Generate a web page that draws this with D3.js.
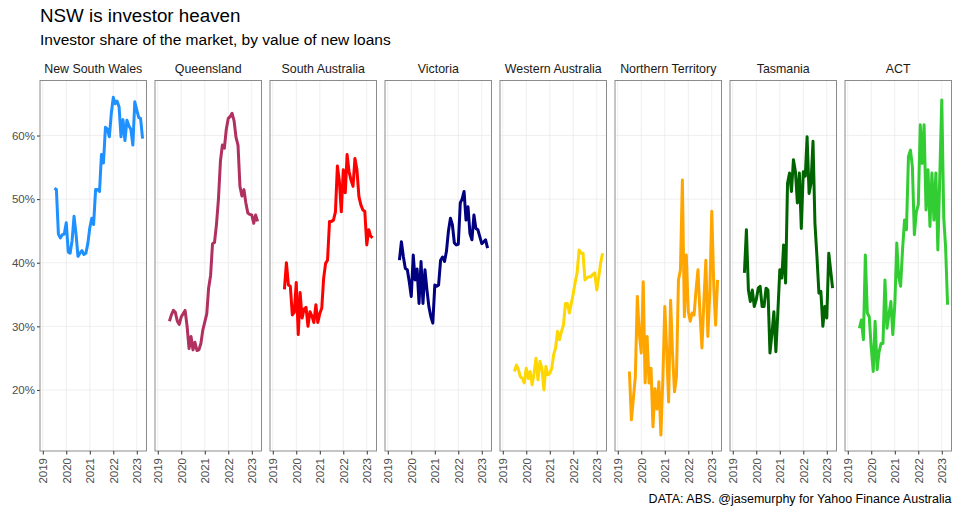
<!DOCTYPE html>
<html><head><meta charset="utf-8">
<script src="https://cdn.jsdelivr.net/npm/d3@7"></script>
<style>body{margin:0;background:#fff}svg{display:block;font-family:"Liberation Sans",Arial,sans-serif}</style>
</head><body>
<svg id="chart" width="959" height="514"></svg>
<script>
const regions = ["New South Wales","Queensland","South Australia","Victoria","Western Australia","Northern Territory","Tasmania","ACT"];
const colors = ["#1E90FF","#B03060","#FF0000","#000080","#FFD700","#FFA500","#006400","#32CD32"];
const startMonth = [2019, 6]; // Jul 2019, monthly
const nsw = [51.7,51.5,44.5,43.9,44.4,44.5,46.3,41.7,41.5,43.5,47.3,44.5,41.0,41.5,41.9,41.3,41.5,43,45.5,47,46,51.5,51.5,51.2,57,55.7,61.3,61,59.8,63.5,66,65,65.4,64.5,59.8,62.5,59.2,62.4,61.5,61,58.5,65.3,64,62.8,62.7,59.5];
const qld = [30.8,31.8,32.5,32.2,30.8,30.3,31.5,32,32.5,30,26.5,28.4,26.3,27.5,26.2,26.3,27.3,29.4,30.7,32,36,38,43,43.2,46,50,56,58.5,58,61,62.7,63,63.5,62.3,59.7,58.5,52,50.5,51.5,49.4,47.8,47.6,47.5,46.2,47.5,46.5];
const sa = [35.8,40,36.5,36.3,31.8,32.2,36.9,28.7,35.3,31.3,32.7,33,30,32.3,31.6,30.6,33.4,30.6,32,32.9,37.5,39.9,40.4,46.5,46.5,46.7,48,55.2,52.8,48,54.6,51,57,54.3,53,52,56.4,54.6,50.4,49.1,48.3,48.1,42.8,45.2,44.2,43.9];
const vic = [40.4,43.3,40.9,39.1,38.9,37,34.7,41.2,37.3,39,33.6,40.2,33.6,38.9,35.7,33.1,31.5,30.5,36.5,36.3,36.5,40.4,40.9,40.2,41.8,45,47,46,43.1,42.8,42.9,49.4,50,51.2,46.7,48.8,44.6,43.6,47.5,45.4,45.2,44.1,43,43.3,43.6,42.3];
const wa = [22.9,23.9,23.2,22.1,21.8,21.1,23.4,21.8,22.9,20.8,22.6,25,21.6,24.5,23.4,20,23.7,22.4,22.6,23.4,25.5,26.6,29.2,27.9,29.2,30.2,33.6,33.6,32.1,33.6,35.2,37,38.4,42,41.5,41.5,37.3,37.6,37.8,37.8,38.2,38.4,35.7,37.8,39.9,41.5];
const nt = [22.9,15.3,18.7,22.1,34.7,28.9,25.8,37,21.1,28.4,21.1,23.4,14.2,20.2,17,21.3,12.9,21.6,33.1,25.8,18.1,34.1,25.8,19.7,22.1,37.3,38.9,53,31.5,41.2,32.3,30.8,32.1,31.8,35.7,38.9,32.1,26.6,34.1,40.4,28.4,35.2,48.1,36.3,30.2,37.3];
const tas = [38.4,45.2,35.7,33.9,35.7,33.1,34.2,36,36.3,33.1,33.1,36,35.7,25.8,28.9,32.3,26,32.1,38.9,37.6,42.8,36.8,52.5,54.1,51.2,56.2,54.3,49.4,54.1,45.4,54.3,53.6,59.8,50.9,52.5,59.1,46.2,41,35.2,35.5,30,33.1,31.3,41.5,38.9,36];
const act = [29.7,31,27.9,41.2,32.1,31.5,26.6,22.9,30.8,23.2,26,27.3,27.3,37.3,29.7,31.8,33.9,28.7,33.4,43.1,37.8,36.3,42,46.7,45.2,56.7,57.7,55.1,44.4,48,49.1,61.7,55.6,61.7,48.3,54.6,45.7,54.1,46.7,54.1,42,53.6,65.6,47,42.5,33.4];
const seriesValues = [nsw,qld,sa,vic,wa,nt,tas,act];
const yTicks = [20,30,40,50,60];
const xTickYears = [2019,2020,2021,2022,2023];
const title = "NSW is investor heaven";
const subtitle = "Investor share of the market, by value of new loans";
const caption = "DATA: ABS. @jasemurphy for Yahoo Finance Australia";

(function(){
const svg = d3.select("#chart");
const padLeft = 40, panelTop = 80.5, panelBottom = 451, panelW = 106.5, step = 115;

const x = d3.scaleTime()
  .domain([new Date(2018,10,19), new Date(2023,5,1)])
  .range([0, panelW]);
const y = d3.scaleLinear().domain([10.4, 68.65]).range([panelBottom, panelTop]);

svg.append("text").attr("x", 40).attr("y", 22).attr("font-size", 18.8).attr("fill", "#000").text(title);
svg.append("text").attr("x", 40).attr("y", 45).attr("font-size", 15.5).attr("fill", "#000").text(subtitle);
svg.append("text").attr("x", 951.5).attr("y", 503).attr("text-anchor","end").attr("font-size", 12.5).attr("fill","#000").text(caption);

const yAxis = d3.axisLeft(y).tickValues(yTicks).tickFormat(d => d + "%").tickSize(3).tickPadding(2);
const ya = svg.append("g").attr("transform", `translate(${padLeft},0)`).call(yAxis);
ya.select(".domain").remove();
ya.selectAll("line").attr("stroke", "#333");
ya.selectAll("text").attr("fill", "#4d4d4d").attr("font-size", 11.5).attr("font-family", "Liberation Sans, Arial, sans-serif");

const line = d3.line().x(d => x(d.date)).y(d => y(d.v));

regions.forEach((name, k) => {
  const g = svg.append("g").attr("transform", `translate(${padLeft + k*step},0)`);
  g.selectAll(".hg").data(yTicks).join("line")
    .attr("x1", 0).attr("x2", panelW).attr("y1", d => y(d)).attr("y2", d => y(d))
    .attr("stroke", "#ebebeb").attr("stroke-width", 0.8);
  g.selectAll(".vg").data(xTickYears).join("line")
    .attr("x1", d => x(new Date(d,0,1))).attr("x2", d => x(new Date(d,0,1)))
    .attr("y1", panelTop).attr("y2", panelBottom)
    .attr("stroke", "#ebebeb").attr("stroke-width", 0.8);
  const data = seriesValues[k].map((v, i) => ({date: new Date(startMonth[0], startMonth[1] + i, 1), v}));
  g.append("path").datum(data).attr("d", line).attr("fill", "none")
    .attr("stroke", colors[k]).attr("stroke-width", 3).attr("stroke-linejoin", "round").attr("stroke-linecap","butt");
  g.append("rect").attr("x", 0).attr("y", panelTop).attr("width", panelW).attr("height", panelBottom - panelTop)
    .attr("fill", "none").attr("stroke", "#7f7f7f").attr("stroke-width", 0.9);
  g.append("text").attr("x", panelW/2).attr("y", 73).attr("text-anchor", "middle")
    .attr("font-size", 12.4).attr("fill", "#1a1a1a").text(name);
  const xAxis = d3.axisBottom(x).tickValues(xTickYears.map(d => new Date(d,0,1)))
    .tickFormat(d3.timeFormat("%Y")).tickSize(3.5).tickPadding(2);
  const xa = g.append("g").attr("transform", `translate(0,${panelBottom})`).call(xAxis);
  xa.select(".domain").remove();
  xa.selectAll("line").attr("stroke", "#333");
  xa.selectAll("text").attr("fill", "#4d4d4d").attr("font-size", 11.5)
    .attr("font-family", "Liberation Sans, Arial, sans-serif")
    .attr("transform", "rotate(-90)").attr("text-anchor", "end")
    .attr("dy", "0.35em").attr("x", -7).attr("y", 0);
});
})();
</script>
</body></html>
